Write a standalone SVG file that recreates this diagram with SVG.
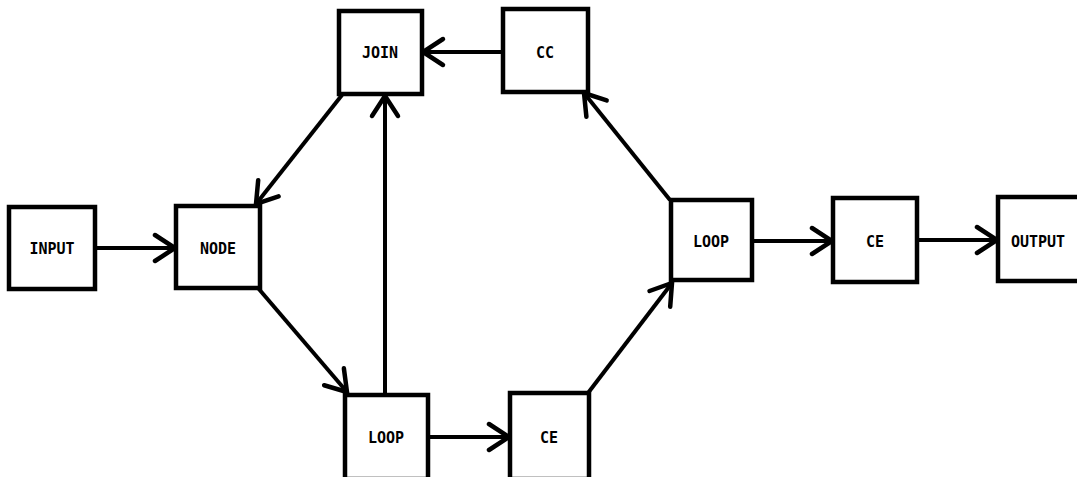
<svg xmlns="http://www.w3.org/2000/svg" width="1077" height="477" viewBox="0 0 1077 477">
<style>
.box{fill:#fff;stroke:#000;stroke-width:4.5}
.lbl{font-family:"DejaVu Sans Mono","Liberation Mono",monospace;font-weight:bold;font-size:15px;fill:#000;text-anchor:middle}
.edge{stroke:#000;stroke-width:4;fill:none;marker-end:url(#ah)}
</style>
<defs>
<marker id="ah" markerUnits="userSpaceOnUse" markerWidth="34" markerHeight="34" viewBox="-25 -17 28 34" refX="0" refY="0" orient="auto">
<path d="M-20,-13 L0,0 L-20,13" fill="none" stroke="#000" stroke-width="4.5" stroke-linecap="round" stroke-linejoin="miter"/>
</marker>
</defs>
<rect width="1077" height="477" fill="#fff"/>
<g id="connectors">
<line class="edge" x1="95" y1="248" x2="175" y2="248"/>
<line class="edge" x1="342" y1="95" x2="256" y2="204"/>
<line class="edge" x1="258" y1="288" x2="347" y2="392"/>
<line class="edge" x1="385" y1="393" x2="385" y2="96"/>
<line class="edge" x1="503" y1="52" x2="423" y2="52"/>
<line class="edge" x1="428" y1="437" x2="509" y2="437"/>
<line class="edge" x1="588" y1="393" x2="672" y2="283"/>
<line class="edge" x1="670" y1="200" x2="584" y2="93"/>
<line class="edge" x1="752" y1="241" x2="832" y2="241"/>
<line class="edge" x1="917" y1="240" x2="997" y2="240"/>
</g>
<g id="input"><rect class="box" x="9" y="207" width="86" height="82"/><text class="lbl" x="52" y="254">INPUT</text></g>
<g id="node"><rect class="box" x="176" y="206" width="84" height="82"/><text class="lbl" x="218" y="254">NODE</text></g>
<g id="join"><rect class="box" x="339" y="11" width="83" height="83"/><text class="lbl" x="380" y="58">JOIN</text></g>
<g id="cc"><rect class="box" x="503" y="9" width="85" height="83"/><text class="lbl" x="545" y="58">CC</text></g>
<g id="loop1"><rect class="box" x="345" y="395" width="83" height="84"/><text class="lbl" x="386" y="443">LOOP</text></g>
<g id="ce1"><rect class="box" x="510" y="393" width="79" height="86"/><text class="lbl" x="549" y="443">CE</text></g>
<g id="loop2"><rect class="box" x="671" y="200" width="81" height="80"/><text class="lbl" x="711" y="247">LOOP</text></g>
<g id="ce2"><rect class="box" x="833" y="198" width="84" height="84"/><text class="lbl" x="875" y="247">CE</text></g>
<g id="output"><rect class="box" x="998" y="197" width="90" height="84"/><text class="lbl" x="1038" y="247">OUTPUT</text></g>
</svg>
